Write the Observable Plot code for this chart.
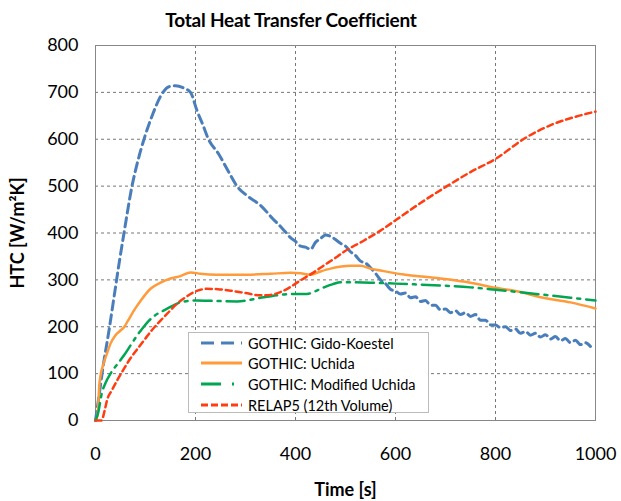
<!DOCTYPE html>
<html>
<head>
<meta charset="utf-8">
<script src="https://cdn.jsdelivr.net/npm/d3@7"></script>
<script src="https://cdn.jsdelivr.net/npm/@observablehq/plot@0.6"></script>
<style>
  html, body { margin: 0; padding: 0; background: #fff; }
  body { width: 621px; height: 501px; position: relative; overflow: hidden; font-family: Lato, "Open Sans", sans-serif; }
  #title { position: absolute; left: 0; top: 8px; width: 582px; text-align: center; font-weight: bold; font-size: 19px; color: #000; letter-spacing: -0.2px; }
  #chart { position: absolute; left: 0; top: 30px; }
  #legend { position: absolute; left: 188px; top: 332px; width: 241px; height: 81px; box-sizing: border-box; border: 1px solid #bbb; background: #fff; font-size: 14.5px; color: #000; }
  .row { position: absolute; left: 0; height: 20px; display: flex; align-items: center; }
  .row svg { margin-left: 12px; margin-right: 6px; }
</style>
</head>
<body>
<div id="title">Total Heat Transfer Coefficient</div>
<div id="chart"></div>
<div id="legend"></div>
<script>
// Time ticks and HTC ticks
const xTicks = [0, 200, 400, 600, 800, 1000];
const yTicks = [0, 100, 200, 300, 400, 500, 600, 700, 800];

const seriesNames = ["GOTHIC: Gido-Koestel", "GOTHIC: Uchida", "GOTHIC: Modified Uchida", "RELAP5 (12th Volume)"];

// GOTHIC: Gido-Koestel
const gidoT = [0, 8, 16, 27, 37, 47, 57, 73, 85, 97, 115, 133, 147, 160, 175, 190, 203, 215, 226, 246, 265, 283, 305, 330, 355, 370,
  380, 390, 400, 410, 420, 430, 440, 450, 460, 470, 480, 490, 500, 510, 520, 530, 540, 550, 560, 570, 580, 590, 600,
  610, 620, 630, 640, 650, 660, 670, 680, 690, 700, 710, 720, 730, 740, 750, 760, 770, 780, 790, 800,
  810, 820, 830, 840, 850, 860, 870, 880, 890, 900, 910, 920, 930, 940, 950, 960, 970, 980, 990];
const gidoV = [0, 60, 121, 192, 263, 334, 400, 500, 555, 600, 655, 697, 712, 714, 710, 700, 661, 630, 600, 569, 533, 500, 478, 459, 430, 414,
  402, 390, 382, 372, 370, 365, 380, 388, 396, 393, 386, 378, 372, 360, 352, 340, 336, 326, 314, 300, 292, 280, 276,
  270, 272, 262, 264, 254, 256, 246, 246, 236, 238, 230, 234, 226, 230, 222, 226, 214, 214, 204, 204,
  198, 200, 192, 195, 186, 190, 182, 186, 178, 183, 174, 179, 170, 175, 166, 171, 162, 166, 158];

// GOTHIC: Uchida
const uchT = [0, 4, 8, 16, 22, 30, 40, 50, 57, 65, 77, 90, 110, 130, 150, 170, 190, 210, 243, 300, 350, 390, 410, 430, 450, 470, 510, 530, 550, 570, 590, 620, 690, 750, 800, 850, 890, 950, 1000];
const uchV = [0, 10, 80, 121, 140, 164, 182, 192, 199, 213, 235, 255, 281, 294, 303, 308, 316, 313, 311, 311, 313, 315, 314, 311, 318, 324, 330, 330, 324, 320, 316, 311, 303, 294, 283, 274, 263, 252, 239];

// GOTHIC: Modified Uchida
const modT = [0, 5, 13, 20, 30, 45, 57, 70, 83, 95, 107, 120, 137, 155, 170, 185, 203, 240, 283, 337, 397, 423, 440, 457, 475, 490, 550, 600, 690, 750, 800, 890, 950, 1000];
const modV = [0, 15, 60, 80, 100, 122, 139, 160, 181, 198, 213, 225, 235, 245, 252, 255, 256, 255, 254, 263, 270, 270, 276, 284, 291, 295, 294, 292, 288, 284, 279, 269, 262, 256];

// RELAP5 (12th Volume)
const relT = [0, 12, 18, 23, 33, 43, 55, 67, 82, 97, 113, 130, 147, 163, 180, 197, 210, 223, 245, 270, 300, 330, 350, 370, 390, 410, 435, 457, 480, 497, 537, 570, 600, 650, 703, 750, 800, 857, 917, 960, 1000];
const relV = [0, 0, 20, 43, 65, 85, 107, 128, 150, 171, 193, 213, 232, 249, 263, 274, 279, 281, 280, 277, 272, 267, 268, 274, 285, 299, 315, 331, 347, 360, 384, 405, 427, 464, 500, 530, 558, 601, 633, 648, 659];

const colors = ["#4A7EBB", "#FF9B3A", "#00A651", "#FF3D10"];
const dashes = ["9,5", null, "18,6,3,6", "6,4"];
const widths = [3, 2.5, 2.5, 2.5];

const toRows = (ts, vs) => ts.map((t, i) => ({t, v: vs[i]}));
const series = [toRows(gidoT, gidoV), toRows(uchT, uchV), toRows(modT, modV), toRows(relT, relV)];

const plot = Plot.plot({
  width: 621,
  height: 471,
  marginLeft: 95,
  marginRight: 26,
  marginTop: 15,
  marginBottom: 81,
  style: {fontFamily: "Lato, 'Open Sans', sans-serif", fontSize: "18px", color: "#000", background: "#fff"},
  x: {domain: [0, 1000]},
  y: {domain: [0, 800]},
  marks: [
    Plot.gridX(xTicks, {stroke: "#777", strokeOpacity: 1, strokeDasharray: "3,3"}),
    Plot.gridY(yTicks, {stroke: "#777", strokeOpacity: 1, strokeDasharray: "3,3"}),
    Plot.frame({stroke: "#888"}),
    Plot.axisX(xTicks, {tickSize: 0, tickPadding: 27, label: null, fontSize: 18, tickFormat: d => String(d)}),
    Plot.axisY(yTicks, {tickSize: 0, tickPadding: 17, label: null, fontSize: 18, tickFormat: d => String(d)}),
    ...series.map((d, i) => Plot.line(d, {
      x: "t", y: "v", stroke: colors[i], strokeWidth: widths[i],
      strokeDasharray: dashes[i], curve: "monotone-x", strokeLinejoin: "round"
    })),
    Plot.text(["HTC [W/m²K]"], {frameAnchor: "left", dx: -77, rotate: -90, fontWeight: "bold", fontSize: 18, textAnchor: "middle"}),
    Plot.text(["Time [s]"], {frameAnchor: "bottom", dy: 70, fontWeight: "bold", fontSize: 18, lineAnchor: "middle"})
  ]
});
document.getElementById("chart").appendChild(plot);

// legend
const legend = document.getElementById("legend");
const rowTops = [0, 20, 41, 62];
seriesNames.forEach((name, i) => {
  const row = document.createElement("div");
  row.className = "row";
  row.style.top = rowTops[i] + "px";
  const sampleDash = [ "13,7", null, "20,11,2,20", "7,3" ][i];
  row.innerHTML = `<svg width="41" height="10"><line x1="0" x2="41" y1="5" y2="5" stroke="${colors[i]}" stroke-width="3" ${sampleDash ? `stroke-dasharray="${sampleDash}"` : ""}/></svg><span>${name}</span>`;
  legend.appendChild(row);
});
</script>
</body>
</html>
